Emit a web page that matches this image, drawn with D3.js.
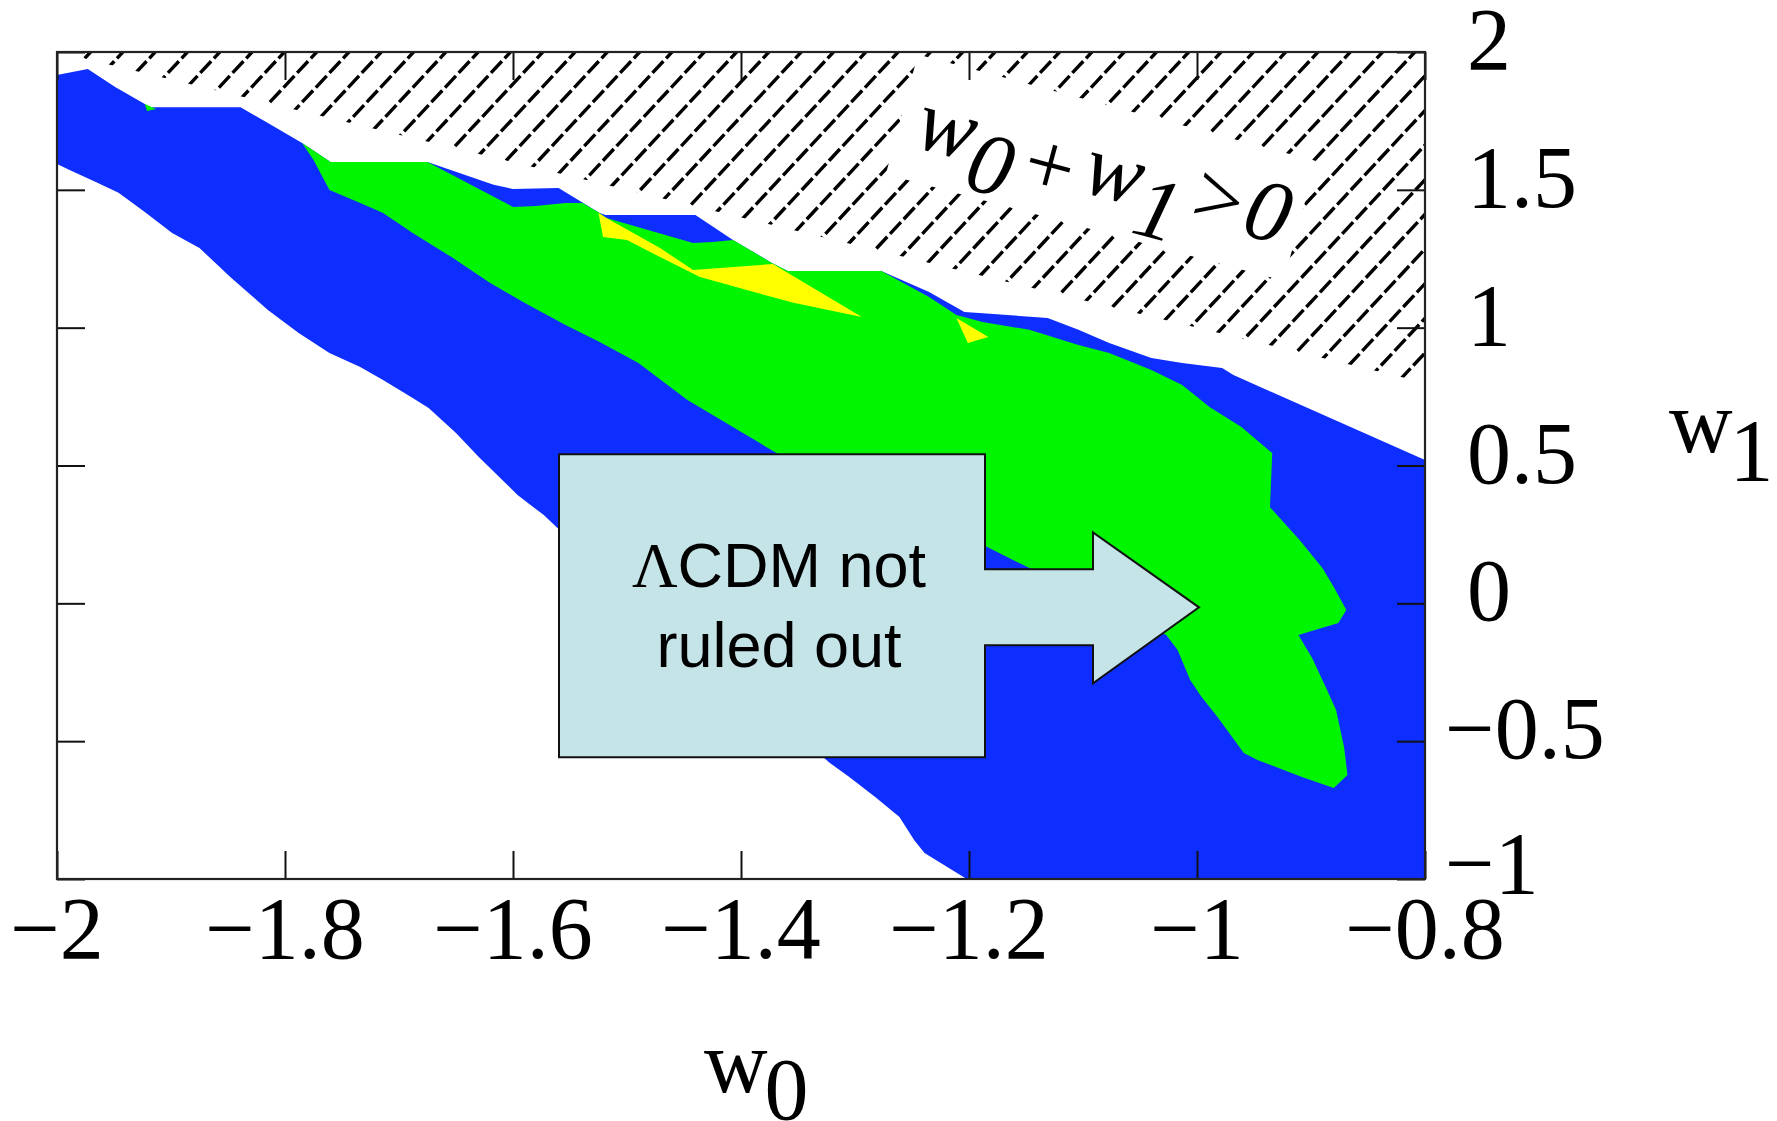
<!DOCTYPE html>
<html>
<head>
<meta charset="utf-8">
<script src="https://cdn.jsdelivr.net/npm/d3@7"></script>
<style>
  html, body { margin: 0; padding: 0; background: #fff; }
  svg { display: block; }
</style>
</head>
<body>
<svg id="chart" width="1777" height="1121"></svg>
<script>
// ---- data: (w0, w1) contour outlines ----
const blueRegion = [
  [-2.000, 1.917], [-1.973, 1.938], [-1.949, 1.873], [-1.923, 1.811], [-1.918, 1.800],
  [-1.839, 1.800], [-1.815, 1.742], [-1.785, 1.670], [-1.760, 1.601], [-1.675, 1.601],
  [-1.647, 1.561], [-1.617, 1.518], [-1.600, 1.503], [-1.560, 1.507], [-1.524, 1.416],
  [-1.519, 1.409], [-1.440, 1.409], [-1.407, 1.318], [-1.373, 1.235], [-1.359, 1.206],
  [-1.277, 1.206], [-1.235, 1.129], [-1.204, 1.057], [-1.191, 1.053], [-1.131, 1.035],
  [-1.104, 0.992], [-1.077, 0.944], [-1.040, 0.890], [-1.013, 0.872], [-0.978, 0.854],
  [-0.968, 0.828], [-0.800, 0.520], [-0.800, -1.000], [-1.202, -1.000], [-1.239, -0.906],
  [-1.248, -0.859], [-1.261, -0.775], [-1.282, -0.703], [-1.305, -0.630], [-1.322, -0.579],
  [-1.561, 0.273], [-1.573, 0.320], [-1.596, 0.393], [-1.630, 0.531], [-1.650, 0.618],
  [-1.674, 0.709], [-1.688, 0.745], [-1.714, 0.810], [-1.734, 0.857], [-1.761, 0.908],
  [-1.788, 0.981], [-1.815, 1.064], [-1.848, 1.184], [-1.875, 1.289], [-1.899, 1.343],
  [-1.923, 1.420], [-1.946, 1.489], [-1.966, 1.528], [-1.989, 1.572], [-2.000, 1.594]
];

const greenRegion = [
  [-1.785, 1.670], [-1.760, 1.601], [-1.675, 1.601], [-1.600, 1.438], [-1.580, 1.441],
  [-1.554, 1.452], [-1.539, 1.452], [-1.524, 1.416], [-1.518, 1.398], [-1.442, 1.307],
  [-1.425, 1.311], [-1.407, 1.318], [-1.373, 1.235], [-1.359, 1.206], [-1.277, 1.206],
  [-1.235, 1.111], [-1.211, 1.046], [-1.188, 1.021], [-1.147, 0.992], [-1.104, 0.937],
  [-1.077, 0.908], [-1.040, 0.846], [-1.013, 0.792], [-0.989, 0.712], [-0.961, 0.640],
  [-0.934, 0.545], [-0.936, 0.349], [-0.910, 0.230], [-0.890, 0.128], [-0.880, 0.059],
  [-0.869, -0.024], [-0.876, -0.071], [-0.911, -0.115], [-0.899, -0.198], [-0.887, -0.304],
  [-0.878, -0.387], [-0.871, -0.521], [-0.868, -0.623], [-0.880, -0.670], [-0.908, -0.630],
  [-0.947, -0.568], [-0.959, -0.543], [-0.982, -0.412], [-0.996, -0.340], [-1.006, -0.278],
  [-1.017, -0.169], [-1.027, -0.115], [-1.147, 0.128], [-1.184, 0.204], [-1.366, 0.538],
  [-1.447, 0.738], [-1.490, 0.872], [-1.524, 0.948], [-1.554, 1.010], [-1.590, 1.090],
  [-1.620, 1.162], [-1.654, 1.256], [-1.688, 1.343], [-1.714, 1.416], [-1.734, 1.452],
  [-1.761, 1.499], [-1.775, 1.608]
];

const greenSpeck = [[-1.923, 1.811], [-1.913, 1.793], [-1.921, 1.786]];

const yellowRegionA = [
  [-1.525, 1.416], [-1.518, 1.398], [-1.471, 1.289], [-1.442, 1.209], [-1.372, 1.231],
  [-1.294, 1.039], [-1.354, 1.090], [-1.436, 1.184], [-1.471, 1.256], [-1.500, 1.318],
  [-1.521, 1.329]
];

const yellowRegionB = [[-1.211, 1.035], [-1.183, 0.966], [-1.201, 0.944]];

// excluded parameter space: w0 + w1 > 0
const excludedRegion = [[-2, 2], [-0.8, 2], [-0.8, 0.8]];

// LambdaCDM point (w0 = -1, w1 = 0)
const lcdmPoint = [-1, 0];

// ---- axes ----
const xTicks = [-2, -1.8, -1.6, -1.4, -1.2, -1, -0.8];
const xTickLabels = ["\u22122", "\u22121.8", "\u22121.6", "\u22121.4", "\u22121.2", "\u22121", "\u22120.8"];
const yTicks = [2, 1.5, 1, 0.5, 0, -0.5, -1];
const yTickLabels = ["2", "1.5", "1", "0.5", "0", "\u22120.5", "\u22121"];

// ---- layout ----
const W = 1777, H = 1121;
const frame = { left: 57, top: 52, right: 1425, bottom: 879 };
const serif = "'Liberation Serif', 'Times New Roman', Times, serif";
const sans = "'Liberation Sans', Arial, Helvetica, sans-serif";

const x = d3.scaleLinear().domain([-2, -0.8]).range([frame.left, frame.right]);
const y = d3.scaleLinear().domain([-1, 2]).range([frame.bottom, frame.top]);

const svg = d3.select("#chart");
svg.append("rect").attr("width", W).attr("height", H).attr("fill", "#fff");

const outline = d3.line().x(d => x(d[0])).y(d => y(d[1])).curve(d3.curveLinearClosed);

// contour fills
const regions = svg.append("g");
regions.append("path").attr("d", outline(blueRegion)).attr("fill", "#0E2DFF");
regions.append("path").attr("d", outline(greenRegion)).attr("fill", "#00F500");
regions.append("path").attr("d", outline(greenSpeck)).attr("fill", "#00F500");
regions.append("path").attr("d", outline(yellowRegionA)).attr("fill", "#FFFF00");
regions.append("path").attr("d", outline(yellowRegionB)).attr("fill", "#FFFF00");

// hatched excluded triangle
const defs = svg.append("defs");
defs.append("clipPath").attr("id", "excluded-clip")
  .append("path").attr("d", outline(excludedRegion));

const hatch = svg.append("g").attr("clip-path", "url(#excluded-clip)");
const spacing = 32.3;
const run = 1 / Math.tan(47 * Math.PI / 180);
const depth = frame.bottom - frame.top;
for (let n = -45; n <= 20; n++) {
  const xt = 1318 + n * spacing;
  hatch.append("line")
    .attr("x1", xt + 20 * run).attr("y1", frame.top - 20)
    .attr("x2", xt - depth * run).attr("y2", frame.bottom)
    .attr("stroke", "#000").attr("stroke-width", 3.4)
    .attr("stroke-dasharray", "16 4");
}

// label of the excluded region, on a cleared band
const excl = hatch.append("g").attr("transform", "translate(912,146) rotate(15)");
excl.append("rect").attr("x", -18).attr("y", -90).attr("width", 412).attr("height", 124).attr("fill", "#fff");
const exclText = excl.append("text")
  .attr("font-family", serif).attr("font-style", "italic").attr("font-size", 88)
  .attr("fill", "#000");
exclText.append("tspan").text("w");
exclText.append("tspan").attr("dy", 27).text("0");
exclText.append("tspan").attr("dy", -15).attr("dx", 5).text("+");
exclText.append("tspan").attr("dy", -12).attr("dx", 6).text("w");
exclText.append("tspan").attr("dy", 27).text("1");
exclText.append("tspan").attr("dy", -27).attr("dx", 4).text(">0");

// ticks on all four sides, pointing inward
const tickStyle = g => {
  g.select(".domain").remove();
  g.selectAll(".tick line").attr("stroke", "#111").attr("stroke-width", 2);
};
svg.append("g").attr("transform", `translate(0,${frame.bottom})`)
  .call(d3.axisBottom(x).tickValues(xTicks).tickSizeInner(-28).tickSizeOuter(0).tickFormat(""))
  .call(tickStyle);
svg.append("g").attr("transform", `translate(0,${frame.top})`)
  .call(d3.axisTop(x).tickValues(xTicks).tickSizeInner(-28).tickSizeOuter(0).tickFormat(""))
  .call(tickStyle);
svg.append("g").attr("transform", `translate(${frame.left},0)`)
  .call(d3.axisLeft(y).tickValues(yTicks).tickSizeInner(-28).tickSizeOuter(0).tickFormat(""))
  .call(tickStyle);
svg.append("g").attr("transform", `translate(${frame.right},0)`)
  .call(d3.axisRight(y).tickValues(yTicks).tickSizeInner(-28).tickSizeOuter(0).tickFormat(""))
  .call(tickStyle);

// plot frame
svg.append("rect")
  .attr("x", frame.left).attr("y", frame.top)
  .attr("width", frame.right - frame.left).attr("height", frame.bottom - frame.top)
  .attr("fill", "none").attr("stroke", "#222").attr("stroke-width", 2.2);

// tick labels
svg.append("g").selectAll("text").data(xTicks).join("text")
  .attr("x", d => x(d)).attr("y", 958)
  .attr("text-anchor", "middle")
  .attr("font-family", serif).attr("font-size", 88).attr("fill", "#000")
  .text((d, i) => xTickLabels[i]);

svg.append("g").selectAll("text").data(yTicks).join("text")
  .attr("x", d => frame.right + (d < 0 ? 20 : 42)).attr("y", d => y(d) + (d === -1 ? 14 : 17))
  .attr("text-anchor", "start")
  .attr("font-family", serif).attr("font-size", 88).attr("fill", "#000")
  .text((d, i) => yTickLabels[i]);

// axis titles
const xTitle = svg.append("text").attr("x", 704).attr("y", 1092)
  .attr("font-family", serif).attr("font-size", 88).attr("fill", "#000");
xTitle.append("tspan").text("w");
xTitle.append("tspan").attr("dy", 27).attr("dx", -3).text("0");

const yTitle = svg.append("text").attr("x", 1669).attr("y", 452)
  .attr("font-family", serif).attr("font-size", 88).attr("fill", "#000");
yTitle.append("tspan").text("w");
yTitle.append("tspan").attr("dy", 28).attr("dx", -3).text("1");

// callout pointing at the LambdaCDM point
const tx = x(lcdmPoint[0]), ty = y(lcdmPoint[1]);
const callout = [
  [tx - 638, ty - 149], [tx - 212, ty - 149], [tx - 212, ty - 34], [tx - 104, ty - 34],
  [tx - 104, ty - 71], [tx + 2, ty + 4], [tx - 104, ty + 80], [tx - 104, ty + 42],
  [tx - 212, ty + 42], [tx - 212, ty + 154], [tx - 638, ty + 154]
];
svg.append("path")
  .attr("d", "M" + callout.map(p => p.join(",")).join("L") + "Z")
  .attr("fill", "#C5E4E8").attr("stroke", "#111").attr("stroke-width", 2);

const line1 = svg.append("text").attr("x", tx - 418).attr("y", ty - 16)
  .attr("text-anchor", "middle").attr("font-family", sans).attr("font-size", 63).attr("fill", "#000");
line1.append("tspan").attr("font-family", serif).text("\u039B");
line1.append("tspan").text("CDM not");
svg.append("text").attr("x", tx - 418).attr("y", ty + 64)
  .attr("text-anchor", "middle").attr("font-family", sans).attr("font-size", 63).attr("fill", "#000")
  .text("ruled out");
</script>
</body>
</html>
